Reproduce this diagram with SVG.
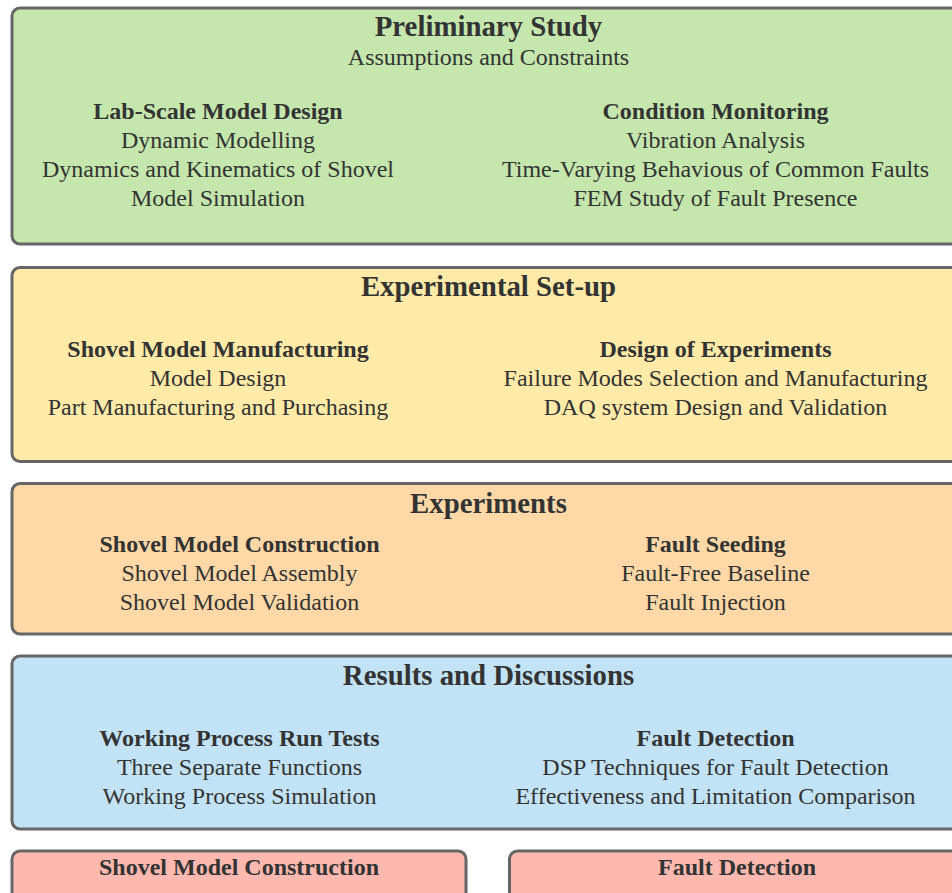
<svg xmlns="http://www.w3.org/2000/svg" width="952" height="893" viewBox="0 0 952 893">
  <style>
    .box { stroke: #666666; stroke-width: 3; }
    text { font-family: "Liberation Serif", "Times New Roman", serif; fill: #333333; text-anchor: middle; }
    .title { font-size: 28.8px; font-weight: bold; }
    .head { font-size: 24px; font-weight: bold; }
    .item { font-size: 24px; }
  </style>
  <rect width="952" height="893" fill="#ffffff"/>

  <!-- Stage 1 -->
  <g id="preliminary-study">
    <rect class="box" x="12" y="8" width="953" height="236" rx="8" fill="#c5e6ad"/>
    <text class="title" x="488.5" y="36">Preliminary Study</text>
    <text class="item" x="488.5" y="65">Assumptions and Constraints</text>
    <text class="head" x="218" y="119">Lab-Scale Model Design</text>
    <text class="item" x="218" y="148">Dynamic Modelling</text>
    <text class="item" x="218" y="177">Dynamics and Kinematics of Shovel</text>
    <text class="item" x="218" y="206">Model Simulation</text>
    <text class="head" x="715.5" y="119">Condition Monitoring</text>
    <text class="item" x="715.5" y="148">Vibration Analysis</text>
    <text class="item" x="715.5" y="177">Time-Varying Behavious of Common Faults</text>
    <text class="item" x="715.5" y="206">FEM Study of Fault Presence</text>
  </g>

  <!-- Stage 2 -->
  <g id="experimental-setup">
    <rect class="box" x="12" y="267.5" width="953" height="194" rx="8" fill="#ffeaa8"/>
    <text class="title" x="488.5" y="296">Experimental Set-up</text>
    <text class="head" x="218" y="357">Shovel Model Manufacturing</text>
    <text class="item" x="218" y="386">Model Design</text>
    <text class="item" x="218" y="415">Part Manufacturing and Purchasing</text>
    <text class="head" x="715.5" y="357">Design of Experiments</text>
    <text class="item" x="715.5" y="386">Failure Modes Selection and Manufacturing</text>
    <text class="item" x="715.5" y="415">DAQ system Design and Validation</text>
  </g>

  <!-- Stage 3 -->
  <g id="experiments">
    <rect class="box" x="12" y="483.5" width="953" height="150.5" rx="8" fill="#fed9a7"/>
    <text class="title" x="488.5" y="513">Experiments</text>
    <text class="head" x="239.5" y="552">Shovel Model Construction</text>
    <text class="item" x="239.5" y="581">Shovel Model Assembly</text>
    <text class="item" x="239.5" y="610">Shovel Model Validation</text>
    <text class="head" x="715.5" y="552">Fault Seeding</text>
    <text class="item" x="715.5" y="581">Fault-Free Baseline</text>
    <text class="item" x="715.5" y="610">Fault Injection</text>
  </g>

  <!-- Stage 4 -->
  <g id="results-discussions">
    <rect class="box" x="12" y="656" width="953" height="173" rx="8" fill="#c2e3f5"/>
    <text class="title" x="488.5" y="685">Results and Discussions</text>
    <text class="head" x="239.5" y="746">Working Process Run Tests</text>
    <text class="item" x="239.5" y="775">Three Separate Functions</text>
    <text class="item" x="239.5" y="804">Working Process Simulation</text>
    <text class="head" x="715.5" y="746">Fault Detection</text>
    <text class="item" x="715.5" y="775">DSP Techniques for Fault Detection</text>
    <text class="item" x="715.5" y="804">Effectiveness and Limitation Comparison</text>
  </g>

  <!-- Outcomes -->
  <g id="outcome-construction">
    <rect class="box" x="12" y="851" width="454" height="60" rx="8" fill="#fdb9b0"/>
    <text class="head" x="239" y="875">Shovel Model Construction</text>
  </g>
  <g id="outcome-detection">
    <rect class="box" x="509.5" y="851" width="455.5" height="60" rx="8" fill="#fdb9b0"/>
    <text class="head" x="737" y="875">Fault Detection</text>
  </g>

  <g id="connectors"/>
</svg>
